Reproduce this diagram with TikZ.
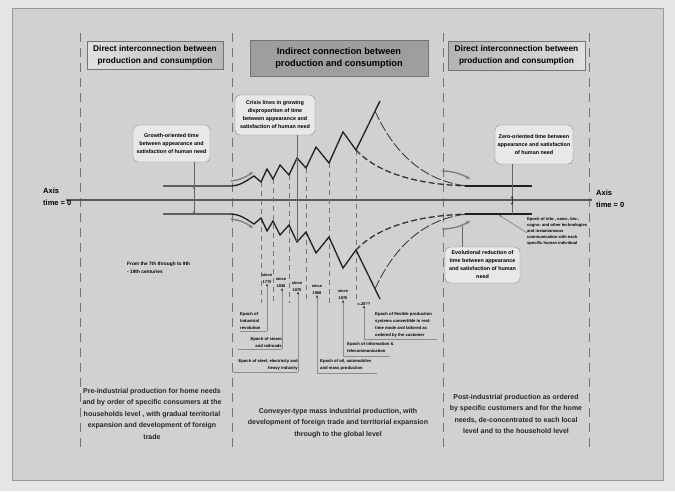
\documentclass[tikz,border=0pt]{standalone}
\usepackage{fontspec}
\setmainfont{Liberation Sans}
\usetikzlibrary{arrows.meta,calc}
\newcommand\myhalf{%
  \draw[mainline] (163,186) -- (230,186) .. controls (240,186) and (246,181) .. (254,176) -- (261,182) -- (267,169) -- (273,179) -- (280,165) -- (289,175) -- (297,158) -- (306,168) -- (316,147) -- (329,163) -- (343,132) -- (356,150) -- (380,101);
  \draw[line width=0.8pt, draw=black!80, dash pattern=on 10pt off 2.5pt] (375,111) .. controls (388,140) and (415,181) .. (468,186);
  \draw[line width=1.3pt, draw=black!80, dash pattern=on 6pt off 3pt] (356,150) .. controls (370,165) and (400,184) .. (468,186);
  \draw[mainline] (465,186) -- (532,186);
  \draw[garrow] (231,181) .. controls (240,180) and (246,177) .. (253,172);
  \draw[garrow] (442,171) .. controls (455,171) and (463,175) .. (470,179);
}
\begin{document}
\begin{tikzpicture}[x=1pt,y=-1pt,
  mainline/.style={line width=1.3pt, draw=black!88},
  divider/.style={draw=black!55, line width=1pt, dash pattern=on 9pt off 6pt},
  crisis/.style={draw=black!55, line width=0.9pt, dash pattern=on 5pt off 4pt},
  hdr/.style={draw=black!55, line width=0.6pt, align=center, font=\fontsize{8.3}{12}\selectfont\bfseries, inner sep=0pt},
  callout/.style={draw=black!45, fill=black!9, rounded corners=5pt, align=center, font=\fontsize{5.4}{8}\selectfont\bfseries, inner sep=0pt},
  tinyl/.style={font=\fontsize{4.2}{7}\selectfont\bfseries, inner sep=0pt, align=left},
  tinyr/.style={font=\fontsize{4.2}{7}\selectfont\bfseries, inner sep=0pt, align=right},
  datelbl/.style={font=\fontsize{4}{7}\selectfont\bfseries, inner sep=0pt, align=center},
  lead/.style={draw=black!45, line width=0.5pt},
  leadarr/.style={draw=black!45, line width=0.5pt, -{Stealth[length=2.6pt,width=2.2pt,color=black!85,fill=black!85]}},
  ptr/.style={draw=black!60, line width=0.7pt},
  ptrarr/.style={draw=black!60, line width=0.7pt, -{Stealth[length=3pt,width=2.6pt]}},
  bottomtext/.style={font=\fontsize{7}{11.5}\selectfont\bfseries, align=center, text=black!85, inner sep=0pt},
  axislbl/.style={font=\fontsize{7.5}{11.5}\selectfont\bfseries, align=left, inner sep=0pt, anchor=north west},
  garrow/.style={draw=black!50, line width=1.4pt, -{Stealth[length=4pt,width=3.6pt]}},
]
% background
\fill[black!10] (0,0) rectangle (675,491);
\draw[black!40, line width=0.6pt, fill=black!18] (12,8) rectangle (663,480);
\useasboundingbox (0,0) rectangle (675,491);

% column dividers
\foreach \x in {80,232,443,589} \draw[divider] (\x,33) -- (\x,450);

% headers
\node[hdr, minimum width=136pt, minimum height=28pt, left color=black!12, right color=black!28] (h1) at (155,55) {Direct interconnection between\\production and consumption};
\node[hdr, minimum width=178pt, minimum height=36pt, fill=black!38, font=\fontsize{9.2}{12.5}\selectfont\bfseries] (h2) at (339,58) {Indirect connection between\\production and consumption};
\node[hdr, minimum width=137pt, minimum height=29pt, left color=black!30, right color=black!12] (h3) at (516.5,55.5) {Direct interconnection between\\production and consumption};

% axis
\coordinate (axL) at (66,200);
\coordinate (axR) at (592,200);
\draw[draw=black!65, line width=1.2pt] (axL) -- (axR);
\node[axislbl] (axl1) at (43,188) {Axis\\time = 0};
\node[axislbl] (axl2) at (596,190) {Axis\\time = 0};

% crisis dashed verticals
\foreach \x/\y in {261/182,273/179,289/175,306/168,329/163,356/150} \draw[crisis] (\x,\y) -- (\x,303);

% the two halves (upper and mirrored lower)
\myhalf
\begin{scope}[yshift=-400pt, yscale=-1]\myhalf\end{scope}

% callouts
\node[callout, minimum width=77pt, minimum height=37pt] (g) at (171.5,143.5) {Growth-oriented time\\between appearance and\\satisfaction of human need};
\coordinate (gp) at (194,186);
\coordinate (gq) at (194,214);
\coordinate (gm) at (194,200);
\draw[ptr] (g.south -| gp) -- (gp);
\draw[ptrarr] (gm) -- (gp);
\draw[ptrarr] (gm) -- (gq);

\node[callout, minimum width=80pt, minimum height=40pt] (c) at (275,115) {Crisis lines in growing\\disproportion of time\\between appearance and\\satisfaction of human need};
\coordinate (cp) at (297,158);
\coordinate (cq) at (297,242);
\coordinate (cm) at (297,200);
\draw[ptr] (c.south -| cp) -- (cp);
\draw[ptrarr] (cm) -- (cp);
\draw[ptrarr] (cm) -- (cq);

\node[callout, minimum width=78pt, minimum height=39pt] (z) at (534,144.5) {Zero-oriented time between\\appearance and satisfaction\\of human need};
\coordinate (zp) at (512,214);
\coordinate (za) at (512,196);
\coordinate (zb) at (512,205);
\draw[ptr] (z.south -| zp) -- (zp);
\draw[line width=0.8pt, black!80, {Stealth[length=2.5pt,width=2.5pt]}-{Stealth[length=2.5pt,width=2.5pt]}] (za) -- (zb);

\node[callout, minimum width=75pt, minimum height=36pt] (ev) at (482.5,265) {Evolutional reduction of\\time between appearance\\and satisfaction of human\\need};
\coordinate (evp) at (462,226);
\draw[ptr] (ev.north -| evp) -- (evp);

% epoch info text
\node[font=\fontsize{4.1}{6}\selectfont\bfseries, inner sep=0pt, align=left, anchor=north west] (info) at (527,217) {Epoch of info-, nano-, bio-,\\cogno- and other technologies\\and instantaneous\\communication with each\\specific human individual};
\coordinate (infop) at (499,215);
\draw[draw=black!55, line width=0.5pt, -{Stealth[length=2.6pt,width=2.2pt]}] (527,233) -- (infop);

% left tiny text
\node[font=\fontsize{4.8}{8}\selectfont\bfseries, inner sep=0pt, align=left, anchor=north west] (cent) at (127,262) {From the 7th through to 9th\\- 19th centuries};

% dates
\node[datelbl] (d1) at (267,278.5) {since\\1770};
\node[datelbl] (d2) at (281,283) {since\\1830};
\node[datelbl] (d3) at (297,286.5) {since\\1875};
\node[datelbl] (d4) at (317,290) {since\\1908};
\node[datelbl] (d5) at (343,295) {since\\1970};
\node[datelbl] (d6) at (364,304) {c.20??};

% epochs
\node[tinyl, anchor=north west] (e1) at (240,312) {Epoch of\\Industrial\\revolution};
\draw[lead] (240,331) -- (267,331);
\draw[leadarr] (267,331) -- (d1.south);

\node[tinyr, anchor=north east] (e2) at (282,337) {Epoch of steam\\and railroads};
\draw[lead] (238,349) -- (282,349);
\draw[leadarr] (282,349) -- (d2.south -| 282,0);

\node[tinyr, anchor=north east] (e3) at (298,359) {Epoch of steel, electricity and\\heavy industry};
\draw[lead] (233,372) -- (298,372);
\draw[leadarr] (298,372) -- (d3.south -| 298,0);

\node[tinyl, anchor=north west] (e4) at (320,359) {Epoch of oil, automobiles\\and mass production};
\draw[lead] (377,373) -- (317,373);
\draw[leadarr] (317,373) -- (d4.south);

\node[tinyl, anchor=north west] (e5) at (347,342) {Epoch of information \&\\telecommunication};
\draw[lead] (390,356) -- (343,356);
\draw[leadarr] (343,356) -- (d5.south);

\node[tinyl, anchor=north west] (e6) at (375,312) {Epoch of flexible production\\systems convertible in real-\\time mode and tailored as\\ordered by the customer};
\draw[lead] (437,339) -- (364,339);
\draw[leadarr] (364,339) -- (d6.south);

% bottom texts
\node[bottomtext, anchor=north] (b1) at (152,388) {Pre-industrial production for home needs\\and by order of specific consumers at the\\households level , with gradual territorial\\expansion and development of foreign\\trade};
\node[bottomtext, anchor=north] (b2) at (338,408) {Conveyer-type mass industrial production, with\\development of foreign trade and territorial expansion\\through to the global level};
\node[bottomtext, anchor=north] (b3) at (516,394) {Post-industrial production as ordered\\by specific customers and for the home\\needs, de-concentrated to each local\\level and to the household level};
\end{tikzpicture}
\end{document}
